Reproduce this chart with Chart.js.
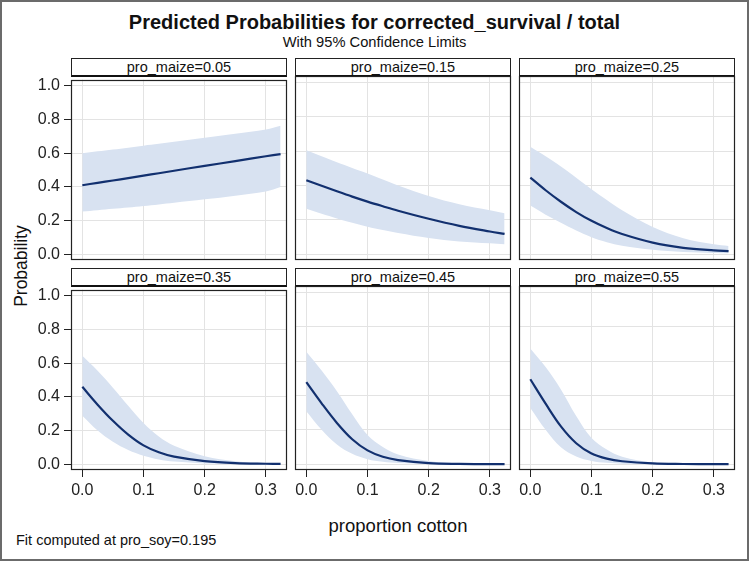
<!DOCTYPE html>
<html>
<head>
<meta charset="utf-8">
<script src="https://cdn.jsdelivr.net/npm/chart.js@4.4.1/dist/chart.umd.min.js"></script>
<style>
body { margin: 0; background: #fff; font-family: 'Liberation Sans', Arial, sans-serif; color: #111; }
#frame { position: absolute; left: 0; top: 0; width: 749px; height: 561px; box-sizing: border-box; border: 2px solid #6b6b6b; }
.txt { position: absolute; white-space: nowrap; }
#title { left: 0; width: 749px; top: 11px; text-align: center; font-weight: bold; font-size: 20px; }
#subtitle { left: 0; width: 749px; top: 34px; text-align: center; font-size: 14.7px; }
#ylab { left: 21px; top: 266px; font-size: 17.5px; transform: translate(-50%, -50%) rotate(-90deg); }
#xlab { left: 0; width: 796px; top: 515px; text-align: center; font-size: 18.5px; }
#note { left: 16px; top: 532px; font-size: 14.5px; }
.head { position: absolute; box-sizing: border-box; height: 19px; border: 1px solid #222; border-bottom: 2px solid #111;
        text-align: center; font-size: 14.5px; line-height: 16px; background: #fff; }
canvas { position: absolute; }
</style>
</head>
<body>
<div id="frame"></div>
<div class="txt" id="title">Predicted Probabilities for corrected_survival / total</div>
<div class="txt" id="subtitle">With 95% Confidence Limits</div>
<div class="txt" id="ylab">Probability</div>
<div class="txt" id="xlab">proportion cotton</div>
<div class="txt" id="note">Fit computed at pro_soy=0.195</div>
<script>
const xCotton = [0, 0.025, 0.05, 0.075, 0.1, 0.125, 0.15, 0.2, 0.25, 0.3, 0.324];
const maizeLevels = ['0.05', '0.15', '0.25', '0.35', '0.45', '0.55'];
const yTicks = [0, 0.2, 0.4, 0.6, 0.8, 1.0];
const xTicks = [0, 0.1, 0.2, 0.3];

const pred05 = [0.41, 0.424, 0.438, 0.452, 0.467, 0.481, 0.496, 0.525, 0.553, 0.582, 0.595];
const upper05 = [0.60, 0.611, 0.622, 0.633, 0.645, 0.656, 0.668, 0.692, 0.716, 0.741, 0.763];
const lower05 = [0.254, 0.262, 0.27, 0.278, 0.287, 0.296, 0.306, 0.326, 0.348, 0.373, 0.399];

const pred15 = [0.43, 0.398, 0.366, 0.335, 0.306, 0.279, 0.253, 0.206, 0.165, 0.132, 0.118];
const upper15 = [0.605, 0.57, 0.535, 0.502, 0.47, 0.435, 0.40, 0.338, 0.29, 0.255, 0.238];
const lower15 = [0.264, 0.235, 0.208, 0.183, 0.16, 0.14, 0.123, 0.094, 0.074, 0.063, 0.058];

const pred25 = [0.446, 0.372, 0.305, 0.245, 0.194, 0.152, 0.117, 0.067, 0.037, 0.022, 0.018];
const upper25 = [0.625, 0.57, 0.51, 0.445, 0.378, 0.315, 0.255, 0.158, 0.093, 0.058, 0.048];
const lower25 = [0.283, 0.23, 0.183, 0.138, 0.099, 0.07, 0.049, 0.025, 0.013, 0.007, 0.005];

const pred35 = [0.46, 0.354, 0.258, 0.176, 0.112, 0.071, 0.045, 0.019, 0.007, 0.003, 0.002];
const upper35 = [0.644, 0.555, 0.455, 0.348, 0.245, 0.165, 0.11, 0.048, 0.018, 0.007, 0.005];
const lower35 = [0.288, 0.2, 0.133, 0.084, 0.05, 0.028, 0.016, 0.005, 0.002, 0.001, 0.0005];

const pred45 = [0.477, 0.354, 0.24, 0.145, 0.08, 0.043, 0.024, 0.006, 0.0015, 0.0004, 0.0002];
const upper45 = [0.654, 0.545, 0.425, 0.29, 0.17, 0.1, 0.056, 0.018, 0.005, 0.0015, 0.001];
const lower45 = [0.308, 0.2, 0.115, 0.06, 0.029, 0.014, 0.007, 0.0015, 0.0003, 0.0001, 0.0001];

const pred55 = [0.494, 0.352, 0.22, 0.122, 0.062, 0.032, 0.017, 0.004, 0.001, 0.0002, 0.0001];
const upper55 = [0.673, 0.565, 0.435, 0.28, 0.152, 0.085, 0.043, 0.01, 0.002, 0.0005, 0.0003];
const lower55 = [0.327, 0.2, 0.098, 0.045, 0.019, 0.008, 0.003, 0.0007, 0.0001, 0, 0];

const predSets = [pred05, pred15, pred25, pred35, pred45, pred55];
const upperSets = [upper05, upper15, upper25, upper35, upper45, upper55];
const lowerSets = [lower05, lower15, lower25, lower35, lower45, lower55];

const FONT = "'Liberation Sans', Arial, sans-serif";
const colLeft = [71, 295, 519];
const rowTop = [58, 268];
const plotW = 216, headH = 18, plotH = 184;
const padL = 50, padT = 10, padR = 6, padB = 40;

// box around each plot area, drawn over the data
const panelFrame = {
    id: 'panelFrame',
    afterDraw(chart) {
        const { ctx, chartArea: a } = chart;
        ctx.save();
        ctx.strokeStyle = '#222';
        ctx.lineWidth = 1.2;
        ctx.strokeRect(Math.round(a.left) + 0.5, Math.round(a.top) + 0.5,
            Math.round(a.right - a.left) - 1, Math.round(a.bottom - a.top) - 1);
        ctx.restore();
    }
};

function toPoints(ys) {
    return xCotton.map((x, i) => ({ x: x, y: ys[i] }));
}

function makePanel(i) {
    const col = i % 3, row = Math.floor(i / 3);
    const showY = col === 0, showX = row === 1;
    const plotLeft = colLeft[col], plotTop = rowTop[row] + headH;

    const head = document.createElement('div');
    head.className = 'head';
    head.style.left = plotLeft + 'px';
    head.style.top = rowTop[row] + 'px';
    head.style.width = plotW + 'px';
    head.textContent = 'pro_maize=' + maizeLevels[i];
    document.body.appendChild(head);

    const canvas = document.createElement('canvas');
    canvas.width = plotW + padL + padR;
    canvas.height = plotH + padT + padB;
    canvas.style.left = (plotLeft - padL) + 'px';
    canvas.style.top = (plotTop - padT) + 'px';
    document.body.appendChild(canvas);

    const smooth = { tension: 0.35, pointRadius: 0 };

    new Chart(canvas, {
        type: 'line',
        data: {
            datasets: [{
                ...smooth,
                data: toPoints(predSets[i]),
                borderColor: '#12306f',
                borderWidth: 2.2,
                fill: false
            }, {
                ...smooth,
                data: toPoints(upperSets[i]),
                borderWidth: 0,
                borderColor: 'rgba(0,0,0,0)',
                backgroundColor: '#d8e2f1',
                fill: '+1'
            }, {
                ...smooth,
                data: toPoints(lowerSets[i]),
                borderWidth: 0,
                borderColor: 'rgba(0,0,0,0)',
                fill: false
            }]
        },
        options: {
            responsive: false,
            animation: false,
            events: [],
            layout: { padding: { left: 0, top: padT, right: padR, bottom: 0 } },
            plugins: { legend: { display: false }, tooltip: { enabled: false } },
            scales: {
                x: {
                    type: 'linear',
                    min: -0.0185,
                    max: 0.3345,
                    afterBuildTicks: (s) => { s.ticks = xTicks.map(v => ({ value: v })); },
                    afterFit: (s) => { s.height = padB; },
                    ticks: {
                        display: showX,
                        callback: (v) => v.toFixed(1),
                        font: { family: FONT, size: 16 },
                        color: '#222',
                        padding: 4,
                        maxRotation: 0,
                        autoSkip: false
                    },
                    grid: { color: '#e3e3e3', drawTicks: showX, tickLength: 7, tickColor: '#222' },
                    border: { display: false }
                },
                y: {
                    min: -0.034,
                    max: 1.037,
                    afterBuildTicks: (s) => { s.ticks = yTicks.map(v => ({ value: v })); },
                    afterFit: (s) => { s.width = padL; },
                    ticks: {
                        display: showY,
                        callback: (v) => v.toFixed(1),
                        font: { family: FONT, size: 16 },
                        color: '#222',
                        padding: 4
                    },
                    grid: { color: '#e3e3e3', drawTicks: showY, tickLength: 7, tickColor: '#222' },
                    border: { display: false }
                }
            }
        },
        plugins: [panelFrame]
    });
}

maizeLevels.forEach((lvl, i) => makePanel(i));
</script>
</body>
</html>
